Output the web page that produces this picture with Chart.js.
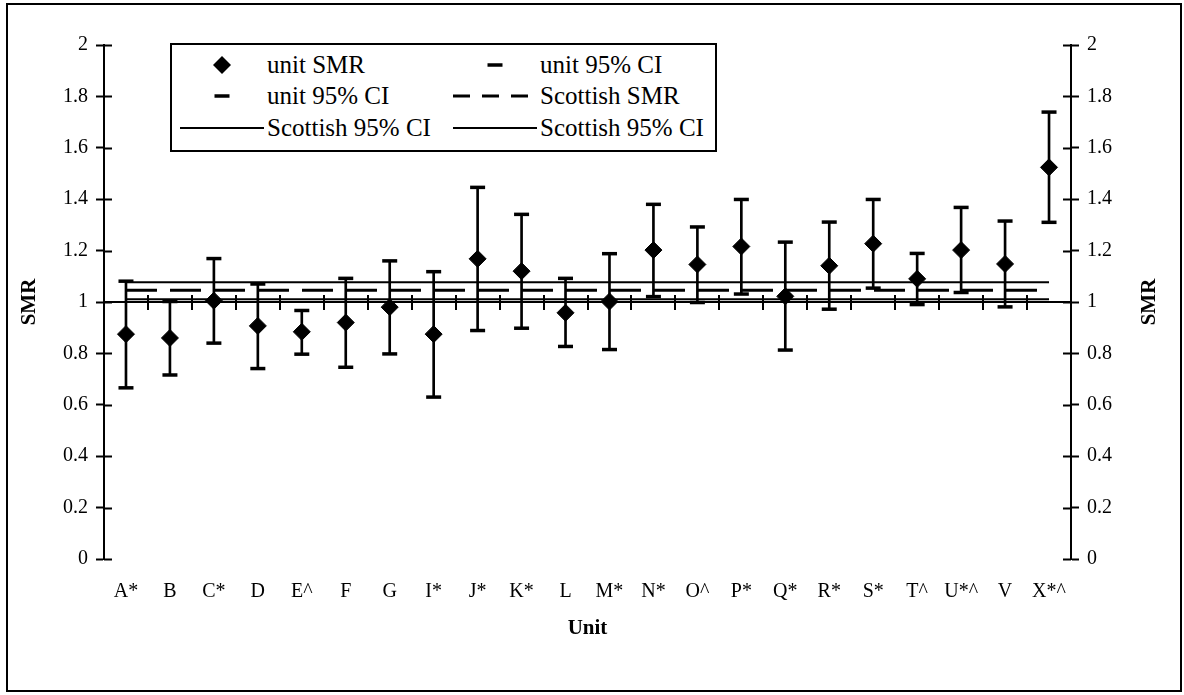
<!DOCTYPE html>
<html>
<head>
<meta charset="utf-8">
<title>Unit SMR with 95% CI</title>
<script src="https://cdn.jsdelivr.net/npm/chart.js@4.4.0/dist/chart.umd.min.js"></script>
<style>
  html, body { margin: 0; padding: 0; background: #fff; }
  #wrap { position: relative; width: 1184px; height: 695px; }
  #chart { position: absolute; left: 0; top: 0; }
  #frame { position: absolute; left: 6px; top: 3px; width: 1176px; height: 689px; box-sizing: border-box; border: 2px solid #000; pointer-events: none; }
  #legend { position: absolute; left: 170px; top: 43px; width: 547px; height: 109px; box-sizing: border-box; border: 2px solid #000; background: #fff;
            font-family: 'Liberation Serif', 'Times New Roman', 'DejaVu Serif', serif; font-size: 25px; color: #000; }
  .item { position: absolute; height: 30px; display: flex; align-items: center; white-space: nowrap; }
  .item svg { width: 84px; height: 30px; flex: none; margin-right: 3px; }
</style>
</head>
<body>
<div id="wrap">
  <canvas id="chart" width="1184" height="695"></canvas>
  <div id="legend"></div>
  <div id="frame"></div>
</div>
<script>
const units = ['A*', 'B', 'C*', 'D', 'E^', 'F', 'G', 'I*', 'J*', 'K*', 'L', 'M*', 'N*', 'O^', 'P*', 'Q*', 'R*', 'S*', 'T^', 'U*^', 'V', 'X*^'];
const unitSmr = [0.875, 0.86, 1.005, 0.907, 0.884, 0.92, 0.98, 0.875, 1.168, 1.12, 0.958, 1.002, 1.202, 1.146, 1.216, 1.022, 1.141, 1.227, 1.09, 1.202, 1.148, 1.524];
const unitCiLow = [0.666, 0.716, 0.84, 0.741, 0.797, 0.746, 0.798, 0.63, 0.889, 0.898, 0.827, 0.815, 1.021, 0.998, 1.031, 0.813, 0.972, 1.054, 0.99, 1.037, 0.981, 1.31];
const unitCiHigh = [1.081, 1.002, 1.169, 1.07, 0.967, 1.092, 1.16, 1.118, 1.446, 1.341, 1.092, 1.188, 1.38, 1.292, 1.399, 1.233, 1.311, 1.399, 1.189, 1.368, 1.315, 1.739];
const scottishSmr = 1.046;
const scottishCiLow = 1.011;
const scottishCiHigh = 1.077;
const smrMin = 0;
const smrMax = 2;
const smrStep = 0.2;
const xCrossesAt = 1;

const serif = "'Liberation Serif', 'Times New Roman', 'DejaVu Serif', serif";
const black = '#000';

// horizontal axis crossing at SMR = 1, cross-style tick marks, right-hand title
const unitAxes = {
  id: 'unitAxes',
  beforeDatasetsDraw(chart) {
    const { ctx, scales: { x, y, y2 } } = chart;
    const cy = y.getPixelForValue(xCrossesAt);
    ctx.save();
    ctx.strokeStyle = black;
    ctx.lineWidth = 2;
    ctx.beginPath();
    ctx.moveTo(y.right, cy);
    ctx.lineTo(y2.left, cy);
    for (let i = 1; i < units.length; i++) {
      const bx = Math.round(x.getPixelForValue(i - 0.5));
      ctx.moveTo(bx, cy - 7);
      ctx.lineTo(bx, cy + 8);
    }
    ctx.stroke();
    ctx.restore();
  },
  afterDraw(chart) {
    const { ctx, scales: { y, y2 } } = chart;
    ctx.save();
    ctx.strokeStyle = black;
    ctx.lineWidth = 2;
    ctx.beginPath();
    y.ticks.forEach(t => {
      const py = Math.round(y.getPixelForValue(t.value)) + 0.5;
      ctx.moveTo(y.right, py);
      ctx.lineTo(y.right + 8, py);
    });
    y2.ticks.forEach(t => {
      const py = Math.round(y2.getPixelForValue(t.value)) + 0.5;
      ctx.moveTo(y2.left - 8, py);
      ctx.lineTo(y2.left, py);
    });
    ctx.stroke();

    ctx.fillStyle = black;
    ctx.font = 'bold 21px ' + serif;
    ctx.textAlign = 'center';
    ctx.textBaseline = 'middle';
    ctx.translate(1150, (y2.top + y2.bottom) / 2);
    ctx.rotate(-Math.PI / 2);
    ctx.fillText('SMR', 0, 0);
    ctx.restore();
  }
};

const tickFont = { family: serif, size: 20 };
const titleFont = { family: serif, size: 21, weight: 'bold' };
const tickLabel = v => String(Math.round(v * 10) / 10);

const chart = new Chart(document.getElementById('chart'), {
  type: 'line',
  data: {
    labels: units,
    datasets: [
      {
        label: 'unit SMR',
        data: unitSmr,
        showLine: false,
        pointStyle: 'rectRot',
        pointRadius: 8.5,
        pointBackgroundColor: black,
        pointBorderColor: black,
        pointBorderWidth: 1
      },
      {
        label: 'unit 95% CI',
        data: unitCiHigh,
        showLine: false,
        pointStyle: 'line',
        pointRadius: 7.5,
        pointBorderColor: black,
        pointBorderWidth: 3.5
      },
      {
        label: 'unit 95% CI',
        data: unitCiLow,
        showLine: false,
        pointStyle: 'line',
        pointRadius: 7.5,
        pointBorderColor: black,
        pointBorderWidth: 3.5
      },
      {
        type: 'bar',
        label: '',
        hideInLegend: true,
        data: units.map((u, i) => [unitCiLow[i], unitCiHigh[i]]),
        backgroundColor: black,
        borderWidth: 0,
        barThickness: 2
      },
      {
        label: 'Scottish SMR',
        data: units.map(() => scottishSmr),
        borderColor: black,
        borderWidth: 3,
        borderDash: [31, 13],
        pointRadius: 0
      },
      {
        label: 'Scottish 95% CI',
        data: units.map(() => scottishCiLow),
        borderColor: black,
        borderWidth: 2,
        pointRadius: 0
      },
      {
        label: 'Scottish 95% CI',
        data: units.map(() => scottishCiHigh),
        borderColor: black,
        borderWidth: 2,
        pointRadius: 0
      }
    ]
  },
  options: {
    responsive: false,
    animation: false,
    events: [],
    layout: { padding: { top: 45, left: 0, right: 0, bottom: 0 } },
    plugins: {
      legend: { display: false },
      tooltip: { enabled: false }
    },
    scales: {
      x: {
        type: 'category',
        offset: true,
        grid: { display: false, drawTicks: false },
        border: { display: false },
        ticks: { color: black, font: tickFont, padding: 21, autoSkip: false, maxRotation: 0 },
        title: { display: true, text: 'Unit', color: black, font: titleFont, padding: { top: 0, bottom: 54 } },
        afterFit: s => { s.height = 136; }
      },
      y: {
        position: 'left',
        min: smrMin,
        max: smrMax,
        ticks: { stepSize: smrStep, color: black, font: tickFont, padding: 8, callback: tickLabel },
        grid: { drawOnChartArea: false, tickLength: 8, tickWidth: 2, tickColor: black },
        border: { color: black, width: 2 },
        title: { display: true, text: 'SMR', color: black, font: titleFont, padding: { top: 17, bottom: 0 } },
        afterFit: s => { s.width = 104; }
      },
      y2: {
        position: 'right',
        min: smrMin,
        max: smrMax,
        ticks: { stepSize: smrStep, color: black, font: tickFont, padding: 8, callback: tickLabel },
        grid: { drawOnChartArea: false, tickLength: 8, tickWidth: 2, tickColor: black },
        border: { color: black, width: 2 },
        afterFit: s => { s.width = 113; }
      }
    }
  },
  plugins: [unitAxes]
});

// two-column legend box built from the dataset labels
function legendSymbol(ds) {
  if (ds.pointStyle === 'rectRot') return '<polygon points="42,6 51,15 42,24 33,15" fill="#000"/>';
  if (ds.pointStyle === 'line') return '<line x1="34.5" y1="15" x2="49.5" y2="15" stroke="#000" stroke-width="3.5"/>';
  if (ds.borderDash) return '<line x1="0" y1="15" x2="75" y2="15" stroke="#000" stroke-width="3" stroke-dasharray="17 12"/>';
  return '<line x1="0" y1="15" x2="84" y2="15" stroke="#000" stroke-width="2"/>';
}

const legendEl = document.getElementById('legend');
const colLeft = [8, 281];
const rowTop = [5, 36, 68];
chart.data.datasets.filter(ds => !ds.hideInLegend).forEach((ds, i) => {
  const item = document.createElement('div');
  item.className = 'item';
  item.style.left = colLeft[i % 2] + 'px';
  item.style.top = rowTop[Math.floor(i / 2)] + 'px';
  item.innerHTML = '<svg viewBox="0 0 84 30">' + legendSymbol(ds) + '</svg><span>' + ds.label + '</span>';
  legendEl.appendChild(item);
});
</script>
</body>
</html>
